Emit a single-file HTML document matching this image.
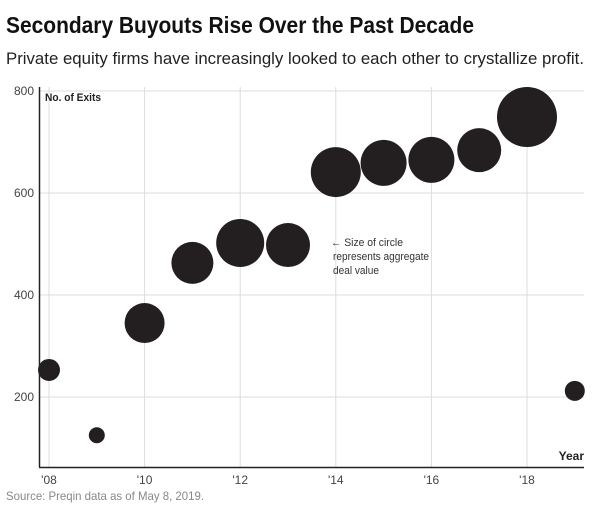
<!DOCTYPE html>
<html><head><meta charset="utf-8"><style>
body{margin:0;background:#fff;}
svg{display:block;font-family:"Liberation Sans Narrow","Liberation Sans",sans-serif;}
</style></head><body>
<svg id="chart" width="607" height="521" viewBox="0 0 607 521">
<text x="6" y="33" font-size="23" font-weight="bold" fill="#111" textLength="468" lengthAdjust="spacingAndGlyphs">Secondary Buyouts Rise Over the Past Decade</text>
<text x="6" y="64" font-size="17" fill="#222" textLength="578" lengthAdjust="spacingAndGlyphs">Private equity firms have increasingly looked to each other to crystallize profit.</text>
<g id="grid"></g>
<g id="bubbles"></g>
<line x1="39.5" y1="87" x2="39.5" y2="467" stroke="#222" stroke-width="1.5"/>
<line x1="39" y1="467.5" x2="584" y2="467.5" stroke="#222" stroke-width="1.5"/>
<text x="45" y="101" font-size="11" font-weight="bold" fill="#222" textLength="56" lengthAdjust="spacingAndGlyphs">No. of Exits</text>
<text x="584" y="460" font-size="12" font-weight="bold" fill="#222" text-anchor="end">Year</text>
<g font-size="11" fill="#333">
<text x="331" y="246" textLength="72" lengthAdjust="spacingAndGlyphs">← Size of circle</text>
<text x="333" y="260" textLength="96" lengthAdjust="spacingAndGlyphs">represents aggregate</text>
<text x="333" y="274" textLength="46" lengthAdjust="spacingAndGlyphs">deal value</text>
</g>
<text x="6" y="500" font-size="12" fill="#888" textLength="198" lengthAdjust="spacingAndGlyphs">Source: Preqin data as of May 8, 2019.</text>
</svg>
<script>
const years=[2008,2009,2010,2011,2012,2013,2014,2015,2016,2017,2018,2019];
const exits=[253,125,345,463,502,498,641,659,665,684,749,212];
const radii=[11,8,20,21,24,22,25,23,23,22,30,10];
const yTicks=[200,400,600,800];
const xTicks=[2008,2010,2012,2014,2016,2018];
const xTickLabels=["'08","'10","'12","'14","'16","'18"];
const NS="http://www.w3.org/2000/svg";
function xs(y){return 49+(y-2008)*47.8;}
function ys(v){return 91+(800-v)*0.51;}
const grid=document.getElementById('grid'),bub=document.getElementById('bubbles');
function mk(t,a,p){const e=document.createElementNS(NS,t);for(const k in a)e.setAttribute(k,a[k]);p.appendChild(e);return e;}
yTicks.forEach(v=>{
  const l=mk('line',{x1:39,x2:584,y1:ys(v),y2:ys(v),stroke:'#ddd','stroke-width':1},grid);
  
  
  const t=mk('text',{x:34,y:ys(v)+4,'font-size':12,fill:'#444','text-anchor':'end'},grid);
  t.textContent=v;
  
  
});
xTicks.forEach((y,i)=>{
  const l=mk('line',{x1:xs(y),x2:xs(y),y1:87,y2:467,stroke:'#ddd','stroke-width':1},grid);
  
  
  const t=mk('text',{x:xs(y),y:484,'font-size':12,fill:'#444','text-anchor':'middle'},grid);
  t.textContent=xTickLabels[i];
  
  
});
years.forEach((y,i)=>{
  const c=mk('circle',{cx:xs(y),cy:ys(exits[i]),r:radii[i],fill:'#231f20'},bub);
  
  
});
</script>
</body></html>
